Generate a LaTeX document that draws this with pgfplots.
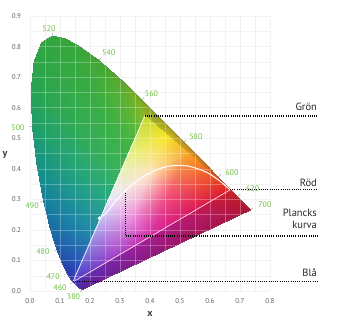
\documentclass[border=0pt]{standalone}
\usepackage{pgfplots}
\pgfplotsset{compat=1.18}
\usepackage{fontspec}
\setmainfont{PT Sans}
\definecolor{wl}{RGB}{110,190,70}
\definecolor{tk}{RGB}{95,95,95}
\definecolor{lbl}{RGB}{40,40,40}
\definecolor{La460}{RGB}{55,45,165}
\definecolor{La465}{RGB}{50,50,170}
\definecolor{La470}{RGB}{45,55,172}
\definecolor{La475}{RGB}{35,70,172}
\definecolor{La480}{RGB}{30,88,170}
\definecolor{La485}{RGB}{25,108,165}
\definecolor{La490}{RGB}{20,128,158}
\definecolor{La495}{RGB}{22,145,135}
\definecolor{La500}{RGB}{30,158,105}
\definecolor{La505}{RGB}{38,163,85}
\definecolor{La510}{RGB}{44,165,72}
\definecolor{La515}{RGB}{48,166,66}
\definecolor{La520}{RGB}{50,166,62}
\definecolor{La525}{RGB}{52,166,60}
\definecolor{La530}{RGB}{56,166,56}
\definecolor{La540}{RGB}{66,166,50}
\definecolor{La550}{RGB}{90,166,44}
\definecolor{La560}{RGB}{120,165,36}
\definecolor{Ea04}{RGB}{55,65,190}
\definecolor{Ea12}{RGB}{45,88,185}
\definecolor{Ea30}{RGB}{35,140,170}
\definecolor{Ea50}{RGB}{42,170,130}
\definecolor{Ea65}{RGB}{58,178,92}
\definecolor{Ea74}{RGB}{62,180,78}
\definecolor{Ea82}{RGB}{72,182,68}
\definecolor{Ea89}{RGB}{90,184,60}
\definecolor{Ea95}{RGB}{112,186,50}
\definecolor{Ea100}{RGB}{140,186,40}
\definecolor{Lb565}{RGB}{140,162,32}
\definecolor{Lb570}{RGB}{155,158,30}
\definecolor{Lb575}{RGB}{170,154,28}
\definecolor{Lb580}{RGB}{182,145,25}
\definecolor{Lb590}{RGB}{196,115,25}
\definecolor{Lb600}{RGB}{200,80,28}
\definecolor{Lb610}{RGB}{198,50,35}
\definecolor{Eb0}{RGB}{150,180,40}
\definecolor{Eb30}{RGB}{205,185,35}
\definecolor{Eb60}{RGB}{225,140,30}
\definecolor{Eb100}{RGB}{212,40,35}
\definecolor{Ec0}{RGB}{210,35,40}
\definecolor{Lc620}{RGB}{190,32,40}
\definecolor{Lc640}{RGB}{180,25,45}
\definecolor{Lc660}{RGB}{175,22,48}
\definecolor{Lc700}{RGB}{172,20,50}
\definecolor{Pc1}{RGB}{165,20,78}
\definecolor{Pc2}{RGB}{148,22,112}
\definecolor{Pc3}{RGB}{122,28,140}
\definecolor{Lc380}{RGB}{92,32,150}
\definecolor{Lc440}{RGB}{78,36,158}
\definecolor{Lc450}{RGB}{68,40,162}
\definecolor{Ec15}{RGB}{200,25,75}
\definecolor{Ec40}{RGB}{180,28,130}
\definecolor{Ec65}{RGB}{150,35,160}
\definecolor{Ec88}{RGB}{100,45,178}
\definecolor{Ec100}{RGB}{60,58,190}
\definecolor{T400}{RGB}{195,215,45}
\definecolor{T310}{RGB}{245,228,35}
\definecolor{T220}{RGB}{248,170,40}
\definecolor{T130}{RGB}{240,100,35}
\definecolor{T040}{RGB}{225,30,35}
\definecolor{T301}{RGB}{228,242,150}
\definecolor{T211}{RGB}{253,228,200}
\definecolor{T121}{RGB}{242,80,120}
\definecolor{T031}{RGB}{218,22,95}
\definecolor{T202}{RGB}{232,235,252}
\definecolor{T112}{RGB}{235,150,225}
\definecolor{T022}{RGB}{212,40,165}
\definecolor{T103}{RGB}{150,140,228}
\definecolor{T013}{RGB}{155,62,200}
\definecolor{T004}{RGB}{62,62,200}
\begin{document}
\begin{tikzpicture}
\begin{axis}[
  at={(30pt,38pt)}, anchor=south west,
  scale only axis, width=240pt, height=275pt,
  xmin=0, xmax=0.8, ymin=0, ymax=0.9,
  clip=false,
  axis line style={draw=none},
  tick style={draw=none},
  xtick={0,0.1,0.2,0.3,0.4,0.5,0.6,0.7,0.8},
  ytick={0,0.1,0.2,0.3,0.4,0.5,0.6,0.7,0.8,0.9},
  minor x tick num=1, minor y tick num=1,
  grid=both,
  grid style={gray!14, line width=0.4pt},
  major grid style={gray!14, line width=0.4pt},
  minor grid style={gray!14, line width=0.4pt},
  /pgf/number format/assume math mode=true,
  /pgf/number format/.cd, fixed, fixed zerofill, precision=1, /pgfplots/.cd,
  tick label style={font=\fontsize{7}{8}\selectfont, text=tk},
  xticklabel style={yshift=-4pt},
  yticklabel style={xshift=-5.5pt},
]
\addplot[patch, patch type=triangle, shader=interp, mesh/color input=explicit, forget plot] table[meta=c]{
x y c
0.1440 0.0297 color=La460
0.1355 0.0399 color=La465
0.1526 0.0512 color=Ea04
0.1355 0.0399 color=La465
0.1241 0.0578 color=La470
0.1526 0.0512 color=Ea04
0.1241 0.0578 color=La470
0.1526 0.0512 color=Ea04
0.1718 0.0947 color=Ea12
0.1241 0.0578 color=La470
0.1096 0.0868 color=La475
0.1718 0.0947 color=Ea12
0.1096 0.0868 color=La475
0.0913 0.1327 color=La480
0.1718 0.0947 color=Ea12
0.0913 0.1327 color=La480
0.0687 0.2007 color=La485
0.1718 0.0947 color=Ea12
0.0687 0.2007 color=La485
0.1718 0.0947 color=Ea12
0.2150 0.1926 color=Ea30
0.0687 0.2007 color=La485
0.0454 0.2950 color=La490
0.2150 0.1926 color=Ea30
0.0454 0.2950 color=La490
0.0235 0.4127 color=La495
0.2150 0.1926 color=Ea30
0.0235 0.4127 color=La495
0.2150 0.1926 color=Ea30
0.2630 0.3013 color=Ea50
0.0235 0.4127 color=La495
0.0082 0.5384 color=La500
0.2630 0.3013 color=Ea50
0.0082 0.5384 color=La500
0.0039 0.6548 color=La505
0.2630 0.3013 color=Ea50
0.0039 0.6548 color=La505
0.2630 0.3013 color=Ea50
0.2990 0.3828 color=Ea65
0.0039 0.6548 color=La505
0.0139 0.7502 color=La510
0.2990 0.3828 color=Ea65
0.0139 0.7502 color=La510
0.0389 0.8120 color=La515
0.2990 0.3828 color=Ea65
0.0389 0.8120 color=La515
0.2990 0.3828 color=Ea65
0.3206 0.4317 color=Ea74
0.0389 0.8120 color=La515
0.0743 0.8338 color=La520
0.3206 0.4317 color=Ea74
0.0743 0.8338 color=La520
0.1142 0.8262 color=La525
0.3206 0.4317 color=Ea74
0.1142 0.8262 color=La525
0.3206 0.4317 color=Ea74
0.3398 0.4752 color=Ea82
0.1142 0.8262 color=La525
0.1547 0.8059 color=La530
0.3398 0.4752 color=Ea82
0.1547 0.8059 color=La530
0.3398 0.4752 color=Ea82
0.3566 0.5132 color=Ea89
0.1547 0.8059 color=La530
0.2296 0.7543 color=La540
0.3566 0.5132 color=Ea89
0.2296 0.7543 color=La540
0.3566 0.5132 color=Ea89
0.3710 0.5458 color=Ea95
0.2296 0.7543 color=La540
0.3016 0.6923 color=La550
0.3710 0.5458 color=Ea95
0.3016 0.6923 color=La550
0.3710 0.5458 color=Ea95
0.3830 0.5730 color=Ea100
0.3016 0.6923 color=La550
0.3731 0.6245 color=La560
0.3830 0.5730 color=Ea100
0.3731 0.6245 color=La560
0.4087 0.5896 color=Lb565
0.3830 0.5730 color=Eb0
0.4087 0.5896 color=Lb565
0.4441 0.5547 color=Lb570
0.3830 0.5730 color=Eb0
0.4441 0.5547 color=Lb570
0.3830 0.5730 color=Eb0
0.4682 0.5004 color=Eb30
0.4441 0.5547 color=Lb570
0.4788 0.5202 color=Lb575
0.4682 0.5004 color=Eb30
0.4788 0.5202 color=Lb575
0.5125 0.4866 color=Lb580
0.4682 0.5004 color=Eb30
0.5125 0.4866 color=Lb580
0.4682 0.5004 color=Eb30
0.5534 0.4278 color=Eb60
0.5125 0.4866 color=Lb580
0.5752 0.4242 color=Lb590
0.5534 0.4278 color=Eb60
0.5752 0.4242 color=Lb590
0.5534 0.4278 color=Eb60
0.6670 0.3310 color=Eb100
0.5752 0.4242 color=Lb590
0.6270 0.3725 color=Lb600
0.6670 0.3310 color=Eb100
0.6270 0.3725 color=Lb600
0.6658 0.3340 color=Lb610
0.6670 0.3310 color=Eb100
0.6670 0.3310 color=Ec0
0.6915 0.3083 color=Lc620
0.5884 0.2858 color=Ec15
0.6915 0.3083 color=Lc620
0.7190 0.2809 color=Lc640
0.5884 0.2858 color=Ec15
0.7190 0.2809 color=Lc640
0.7300 0.2700 color=Lc660
0.5884 0.2858 color=Ec15
0.7300 0.2700 color=Lc660
0.7347 0.2653 color=Lc700
0.5884 0.2858 color=Ec15
0.7347 0.2653 color=Lc700
0.5884 0.2858 color=Ec15
0.4574 0.2104 color=Ec40
0.7347 0.2653 color=Lc700
0.5946 0.2002 color=Pc1
0.4574 0.2104 color=Ec40
0.5946 0.2002 color=Pc1
0.4544 0.1352 color=Pc2
0.4574 0.2104 color=Ec40
0.4544 0.1352 color=Pc2
0.4574 0.2104 color=Ec40
0.3264 0.1350 color=Ec65
0.4544 0.1352 color=Pc2
0.3143 0.0701 color=Pc3
0.3264 0.1350 color=Ec65
0.3143 0.0701 color=Pc3
0.3264 0.1350 color=Ec65
0.2059 0.0657 color=Ec88
0.3143 0.0701 color=Pc3
0.1741 0.0050 color=Lc380
0.2059 0.0657 color=Ec88
0.1741 0.0050 color=Lc380
0.2059 0.0657 color=Ec88
0.1430 0.0295 color=Ec100
0.1741 0.0050 color=Lc380
0.1644 0.0109 color=Lc440
0.1430 0.0295 color=Ec100
0.1644 0.0109 color=Lc440
0.1566 0.0177 color=Lc450
0.1430 0.0295 color=Ec100
0.3830 0.5730 color=T400
0.4540 0.5125 color=T310
0.3230 0.4371 color=T301
0.4540 0.5125 color=T310
0.5250 0.4520 color=T220
0.3940 0.3766 color=T211
0.3230 0.4371 color=T301
0.3940 0.3766 color=T211
0.2630 0.3013 color=T202
0.5250 0.4520 color=T220
0.5960 0.3915 color=T130
0.4650 0.3161 color=T121
0.3940 0.3766 color=T211
0.4650 0.3161 color=T121
0.3340 0.2408 color=T112
0.2630 0.3013 color=T202
0.3340 0.2408 color=T112
0.2030 0.1654 color=T103
0.5960 0.3915 color=T130
0.6670 0.3310 color=T040
0.5360 0.2556 color=T031
0.4650 0.3161 color=T121
0.5360 0.2556 color=T031
0.4050 0.1803 color=T022
0.3340 0.2408 color=T112
0.4050 0.1803 color=T022
0.2740 0.1049 color=T013
0.2030 0.1654 color=T103
0.2740 0.1049 color=T013
0.1430 0.0295 color=T004
0.4540 0.5125 color=T310
0.3230 0.4371 color=T301
0.3940 0.3766 color=T211
0.5250 0.4520 color=T220
0.3940 0.3766 color=T211
0.4650 0.3161 color=T121
0.3940 0.3766 color=T211
0.2630 0.3013 color=T202
0.3340 0.2408 color=T112
0.5960 0.3915 color=T130
0.4650 0.3161 color=T121
0.5360 0.2556 color=T031
0.4650 0.3161 color=T121
0.3340 0.2408 color=T112
0.4050 0.1803 color=T022
0.3340 0.2408 color=T112
0.2030 0.1654 color=T103
0.2740 0.1049 color=T013
};
% white grid overlay over the colours
\pgfplotsinvokeforeach{0,0.05,...,0.8}{\draw[white, opacity=0.28, line width=0.4pt] (axis cs:#1,0) -- (axis cs:#1,0.9);}
\pgfplotsinvokeforeach{0,0.05,...,0.9}{\draw[white, opacity=0.28, line width=0.4pt] (axis cs:0,#1) -- (axis cs:0.8,#1);}
% spectral locus outline
\addplot[black!55, opacity=0.35, line width=0.5pt, forget plot] coordinates {
(0.1741,0.0050)(0.1644,0.0109)(0.1566,0.0177)(0.1440,0.0297)(0.1355,0.0399)(0.1241,0.0578)(0.1096,0.0868)(0.0913,0.1327)(0.0687,0.2007)(0.0454,0.2950)(0.0235,0.4127)(0.0082,0.5384)(0.0039,0.6548)(0.0139,0.7502)(0.0389,0.8120)(0.0743,0.8338)(0.1142,0.8262)(0.1547,0.8059)(0.1929,0.7816)(0.2296,0.7543)(0.2658,0.7243)(0.3016,0.6923)(0.3373,0.6589)(0.3731,0.6245)(0.4441,0.5547)(0.5125,0.4866)(0.5752,0.4242)(0.6270,0.3725)(0.6658,0.3340)(0.6915,0.3083)(0.7190,0.2809)(0.7347,0.2653)(0.1741,0.0050)};
% triangle edges
\addplot[white, opacity=0.85, line width=0.8pt, forget plot] coordinates {(0.143,0.0295)(0.383,0.573)};
\addplot[pink!55!white, line width=0.7pt, forget plot] coordinates {(0.143,0.0295)(0.667,0.331)};
% Planck curve
\addplot[white, line width=1pt, smooth, forget plot] coordinates {
(0.232,0.238)(0.2565,0.2577)(0.2807,0.2884)(0.3135,0.3237)(0.3451,0.3516)(0.3805,0.3768)(0.4369,0.4020)(0.4770,0.4100)(0.5267,0.4090)(0.5857,0.3900)(0.6300,0.3620)(0.667,0.331)};
\addplot[only marks, mark=*, mark size=1.8pt, white, forget plot] coordinates {(0.232,0.238)};
% wavelength ticks
\addplot[gray!70, line width=0.5pt, unbounded coords=jump, forget plot] coordinates {
(0.0743,0.8338)(0.0743,0.846) (nan,nan)
(0.2296,0.7543)(0.238,0.764) (nan,nan)
(0.3731,0.6245)(0.381,0.634) (nan,nan)
(0.5125,0.4866)(0.521,0.496) (nan,nan)
(0.627,0.3725)(0.636,0.382) (nan,nan)
(0.6915,0.3083)(0.700,0.318) (nan,nan)
(0.7347,0.2653)(0.744,0.272) (nan,nan)
(0.0082,0.5384)(-0.004,0.5384) (nan,nan)
(0.0454,0.295)(0.034,0.291) (nan,nan)
(0.0913,0.1327)(0.080,0.1327) (nan,nan)
(0.1241,0.0578)(0.113,0.055) (nan,nan)
(0.144,0.0297)(0.134,0.024) (nan,nan)
(0.1741,0.005)(0.168,-0.003)};
% leader lines
\addplot[black, line width=1.2pt, dash pattern=on 1pt off 1.2pt, forget plot] coordinates {(0.383,0.573)(0.96,0.573)};
\addplot[black, line width=1.2pt, dash pattern=on 1pt off 1.2pt, forget plot] coordinates {(0.667,0.331)(0.96,0.331)};
\addplot[black, line width=1.2pt, dash pattern=on 1pt off 1.2pt, forget plot] coordinates {(0.318,0.322)(0.318,0.18)(0.96,0.18)};
\addplot[black, line width=1.2pt, dash pattern=on 1pt off 1.2pt, forget plot] coordinates {(0.143,0.032)(0.96,0.032)};
% wavelength labels
\begin{scope}[every node/.style={font=\fontsize{8}{9}\selectfont, text=wl, inner sep=0pt}]
\node at (axis cs:0.063,0.858) {520};
\node at (axis cs:0.262,0.779) {540};
\node at (axis cs:0.405,0.645) {560};
\node at (axis cs:0.553,0.504) {580};
\node at (axis cs:0.673,0.386) {600};
\node at (axis cs:0.742,0.335) {620};
\node at (axis cs:0.783,0.281) {700};
\node at (axis cs:-0.04,0.534) {500};
\node at (axis cs:0.007,0.278) {490};
\node at (axis cs:0.043,0.128) {480};
\node at (axis cs:0.077,0.046) {470};
\node at (axis cs:0.10,0.010) {460};
\node at (axis cs:0.145,-0.020) {380};
\end{scope}
% right labels
\begin{scope}[every node/.style={font=\fontsize{10.5}{12.5}\selectfont, text=lbl}]
\node[anchor=base east, inner sep=0pt, yshift=5pt] at (axis cs:0.957,0.573) {Grön};
\node[anchor=base east, inner sep=0pt, yshift=3.5pt] at (axis cs:0.957,0.331) {Röd};
\node[anchor=south east, inner sep=0pt, yshift=7pt, align=right] at (axis cs:0.957,0.18) {Plancks\\kurva};
\node[anchor=base east, inner sep=0pt, yshift=4.5pt] at (axis cs:0.957,0.032) {Blå};
\end{scope}
% axis names
\node[font=\bfseries\fontsize{10}{12}\selectfont, text=black!75] at (axis cs:0.4,-0.075) {x};
\node[font=\bfseries\fontsize{10}{12}\selectfont, text=black!75] at (axis cs:-0.083,0.445) {y};
\end{axis}
\pgfresetboundingbox
\path[use as bounding box] (0,0) rectangle (349pt,329pt);
\end{tikzpicture}
\end{document}
